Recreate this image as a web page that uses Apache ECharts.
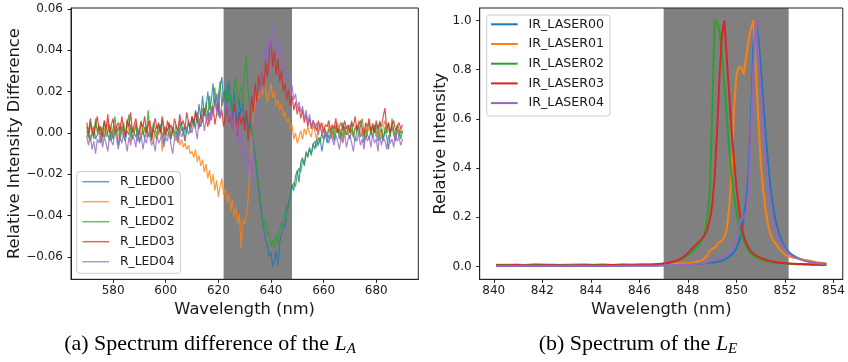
<!DOCTYPE html>
<html><head><meta charset="utf-8">
<script src="https://cdn.jsdelivr.net/npm/echarts@6/dist/echarts.min.js"></script>
<style>html,body{margin:0;padding:0;background:#fff}#c{width:848px;height:362px}</style>
</head><body><div id="c"></div>
<script>
// ---------- (a) Spectrum difference of L_A ----------
// sampling grid of the spectrometer: 570 nm to 690 nm, 181 samples
const wlAStart = 570, wlAStep = 2 / 3, wlACount = 181;
const milli = 0.001; // values below are given in thousandths
const rLed00 = [-2,1,-4,0,3,-3,-1,2,-5,0, -2,3,-1,-4,1,-3,2,0,-6,-1, 3,-2,-4,1,-1,4,-3,0,-2,2, -5,-1,1,-3,3,-2,0,-4,2,-1,
  -3,1,4,-2,-5,0,2,-1,-3,3, -2,1,-4,2,5,-1,3,0,6,2, 8,3,10,5,14,7,18,9,12,20, 11,16,24,13,19,8,22,27,15,21,
  10,25,17,6,20,12,3,16,9,14, 5,11,2,5,0,-6,-12,-20,-28,-35, -42,-47,-52,-55,-60,-58,-65,-62,-57,-64,
  -53,-49,-44,-46,-38,-34,-30,-25,-28,-21, -18,-24,-14,-12,-16,-9,-11,-7,-11,-5, -8,-3,-6,-2,-9,-4,0,-5,-1,-3,
  1,-4,0,2,-3,1,-2,3,-1,0, -3,2,-1,-4,1,3,-2,0,-5,2, -1,-3,1,-2,4,-1,-4,0,2,-3, 1,-2,-8,0,3,-1,-4,2,-2,1, 0];
const rLed01 = [1,-3,4,0,-2,5,2,-1,3,-4, 2,0,6,-2,3,-1,4,1,-3,5, 0,2,-2,7,1,-4,3,0,5,-1, 2,-3,4,1,-2,6,0,3,-5,1,
  4,-1,2,-9,3,0,-2,5,-3,1, -2,-4,0,-6,-3,-7,-5,-8,-6,-10, -9,-12,-8,-14,-11,-16,-13,-19,-15,-22, -18,-25,-20,-28,-23,-31,-26,-22,-30,-27,
  -34,-29,-38,-32,-41,-36,-44,-39,-56,-42, -44,-40,-32,-18,-5,8,14,20,16,23, 18,25,21,15,19,24,17,20,13,16,
  11,14,8,10,5,7,2,4,-3,0, -5,-2,1,-3,2,-1,3,0,-2,4, 1,-3,2,5,-1,3,0,-2,4,1,
  -2,3,0,5,-1,2,-4,1,3,-1, 4,0,-2,3,1,6,-1,2,-3,4, 0,3,-1,5,2,-2,4,1,-3,3, 6,0,2,-1,4,1,-2,3,0,2, 1];
const rLed02 = [3,-2,5,1,-3,7,0,4,-1,2, 6,-2,1,4,-4,2,8,0,3,-3, 1,5,-1,3,9,-2,2,0,4,-4, 2,6,-1,3,0,11,1,-3,5,2,
  -1,4,0,7,-2,3,1,5,-3,2, 0,4,-2,6,1,3,-4,2,5,0, 4,7,2,10,5,3,12,8,15,6, 18,9,14,22,11,17,25,13,20,8,
  24,15,19,10,22,27,14,18,23,12, 30,38,20,12,4,-5,-10,-18,-25,-32, -40,-45,-42,-50,-48,-55,-52,-56,-49,-54,
  -47,-43,-45,-38,-35,-37,-30,-27,-24,-26, -20,-17,-19,-13,-15,-10,-12,-8,-10,-6, -4,-7,-2,-5,0,-3,1,-2,2,-1,
  3,-2,4,0,2,-3,5,1,-1,3, 0,6,-2,2,4,-1,3,7,0,-3, 2,5,-1,3,0,4,-2,6,1,-4, 3,0,5,-2,7,1,-1,4,2,-3, 1];
const rLed03 = [5,0,7,2,-1,4,8,1,3,-2, 6,2,9,0,4,7,-1,3,5,1, 8,2,-2,6,3,10,0,4,7,1, -1,5,3,8,0,4,6,-2,3,7,
  2,5,0,8,3,-1,6,2,4,0, 7,3,1,9,4,6,2,10,5,3, 8,4,11,6,2,9,5,12,7,3, 10,6,13,4,9,15,7,11,3,8,
  12,5,9,2,14,6,-2,10,4,8, 1,11,-4,7,18,10,24,15,28,20, 30,22,35,27,38,45,32,40,28,36,
  25,30,20,24,16,21,13,18,11,15, 9,13,7,11,5,9,3,7,2,6, 4,1,6,2,5,0,4,3,6,1,
  4,2,7,0,3,5,1,6,2,4, 0,5,3,8,1,4,6,2,-1,5, 3,7,1,4,0,6,2,5,3,8, 12,2,5,0,4,6,1,3,5,2, 4];
const rLed04 = [-2,-6,-1,-8,-4,-10,-3,-5,0,-7, -2,-5,-9,-1,-4,-6,1,-3,-8,-2, -5,0,-4,-9,-2,-6,-1,-3,-7,2, -4,-1,-8,-3,-5,1,-2,-6,-4,-9,
  -1,-5,-3,0,-7,-2,-4,1,-6,-10, -3,-1,-5,2,-2,0,-4,3,-1,2, 0,5,2,-3,7,3,9,1,6,11, 4,13,8,16,10,20,7,14,18,9,
  15,6,12,3,10,-2,5,-8,2,-12, -15,-6,-20,-10,-25,0,8,15,5,22, 28,35,42,33,48,40,53,44,38,46,
  36,41,30,34,25,28,20,23,16,19, 12,15,10,13,7,11,5,9,3,6, 2,5,-1,3,0,-3,2,-2,-5,0,
  -3,-6,-1,-4,-8,-2,-5,0,-7,-3, -1,-5,-9,-2,-4,0,-6,-3,-8,-1, -4,-2,-7,0,-5,-3,-9,-1,-6,-2, -4,-8,-1,-5,-3,-7,0,-4,-2,-6, -3];
const ledNames = ['R_LED00','R_LED01','R_LED02','R_LED03','R_LED04'];
const spanA = [622, 648];
const aXTicks = [580,600,620,640,660,680];
const aXLabels = ['580','600','620','640','660','680'];
const aYTicks = [-0.06,-0.04,-0.02,0,0.02,0.04,0.06];
const aYLabels = ['\u22120.06','\u22120.04','\u22120.02','0.00','0.02','0.04','0.06'];

// ---------- (b) Spectrum of L_E ----------
const wlE = [840.1,840.5,840.9,841.3,841.7,842.1,842.5,842.9,843.3,843.7,844.1,844.5,844.9,845.3,845.7,846.1,846.5,
  846.6,846.7,846.8,846.9,847.0,847.1,847.2,847.3,847.4,847.5,
  847.6,847.7,847.8,847.9,848.0,848.1,848.2,848.3,848.4,848.5,
  848.6,848.7,848.8,848.9,849.0,849.1,849.2,849.3,849.4,849.5,
  849.6,849.7,849.8,849.9,850.0,850.1,850.2,850.3,850.4,850.5,
  850.6,850.7,850.8,850.9,851.0,851.1,851.2,851.3,851.4,851.5,
  851.6,851.7,851.8,851.9,852.0,852.1,852.2,852.3,852.4,852.5,
  852.6,852.7,852.8,852.9,853.0,853.1,853.2,853.3,853.4,853.5,853.6,853.7];
const irLaser00 = [.004,.003,.004,.003,.004,.003,.003,.004,.003,.004,.003,.004,.004,.003,.004,.004,.004,
  .004,.004,.005,.005,.005,.005,.006,.006,.006,.006, .007,.007,.007,.008,.008,.009,.009,.01,.01,.011,
  .012,.013,.014,.015,.016,.017,.019,.021,.024,.028, .033,.04,.048,.058,.075,.1,.135,.2,.27,.38,
  .61,.9,1.0,.93,.81,.67,.54,.42,.32,.25, .19,.15,.12,.095,.078,.065,.055,.047,.041,.036,
  .032,.028,.025,.022,.02,.018,.016,.014,.013,.012,.011,.01];
const irLaser01 = [.007,.006,.008,.006,.007,.008,.006,.007,.008,.006,.007,.008,.006,.007,.007,.007,.007,
  .007,.008,.008,.009,.009,.01,.01,.011,.011,.012, .012,.012,.013,.013,.013,.014,.015,.017,.02,.023,
  .027,.035,.045,.065,.072,.076,.09,.1,.105,.12, .15,.24,.38,.64,.78,.81,.81,.78,.85,.92,
  .97,1.0,.8,.6,.42,.31,.23,.17,.13,.11, .095,.08,.068,.057,.048,.043,.04,.037,.035,.033,
  .031,.029,.027,.025,.023,.021,.019,.017,.016,.015,.014,.013];
const irLaser02 = [.006,.007,.005,.006,.008,.006,.007,.005,.006,.008,.006,.007,.006,.008,.007,.008,.008,
  .008,.008,.009,.010,.011,.012,.014,.016,.018,.021, .024,.028,.033,.039,.046,.054,.063,.072,.082,.095,
  .112,.14,.2,.3,.62,1.0,.99,.96,.86,.74, .61,.48,.37,.29,.22,.17,.135,.105,.082,.065,
  .053,.044,.037,.032,.028,.025,.022,.02,.018,.016, .015,.014,.013,.012,.012,.011,.011,.01,.01,.009,
  .009,.009,.008,.008,.008,.007,.007,.007,.007,.006,.006,.006];
const irLaser03 = [.005,.004,.006,.005,.004,.006,.005,.004,.005,.006,.004,.005,.006,.005,.006,.007,.007,
  .008,.009,.01,.011,.012,.013,.015,.017,.02,.023, .027,.032,.038,.046,.055,.065,.075,.085,.095,.105,
  .115,.13,.15,.19,.25,.36,.55,.77,.94,1.0, .85,.7,.55,.43,.32,.24,.17,.125,.095,.075,
  .062,.052,.045,.04,.035,.031,.028,.025,.022,.02, .018,.016,.015,.014,.013,.012,.012,.011,.011,.01,
  .01,.01,.009,.009,.009,.008,.008,.008,.007,.007,.007,.006];
const irLaser04 = [.002,.003,.002,.004,.002,.003,.003,.002,.004,.003,.002,.003,.002,.003,.003,.003,.003,
  .003,.003,.004,.004,.004,.005,.005,.005,.005,.006, .006,.006,.007,.007,.008,.008,.009,.01,.011,.012,
  .013,.015,.017,.02,.023,.026,.03,.034,.038,.042, .048,.055,.065,.085,.12,.16,.195,.2,.22,.32,
  .54,.82,1.0,.86,.72,.58,.45,.34,.26,.2, .16,.13,.105,.085,.07,.058,.049,.043,.038,.034,
  .03,.027,.024,.021,.019,.017,.015,.013,.012,.011,.01,.01];
const laserNames = ['IR_LASER00','IR_LASER01','IR_LASER02','IR_LASER03','IR_LASER04'];
const spanE = [847.0, 852.15];
const eXTicks = [840,842,844,846,848,850,852,854];
const eXLabels = ['840','842','844','846','848','850','852','854'];
const eYTicks = [0,0.2,0.4,0.6,0.8,1.0];
const eYLabels = ['0.0','0.2','0.4','0.6','0.8','1.0'];

const colors = ['#1f77b4','#ff7f0e','#2ca02c','#d62728','#9467bd'];

// ---------- build ----------
const wlA = Array.from({length: wlACount}, (_, i) => wlAStart + i * wlAStep);
const ledData = [rLed00, rLed01, rLed02, rLed03, rLed04];
const laserData = [irLaser00, irLaser01, irLaser02, irLaser03, irLaser04];

const FONT = 'DejaVu Sans';
const TXT = '#1a1a1a';
function fmt(ticks, labels) {
  return v => { const k = ticks.findIndex(t => Math.abs(t - v) < 1e-9); return k < 0 ? '' : labels[k]; };
}
function xAxisCfg(gi, min, max, ticks, labels) {
  return {
    type: 'value', gridIndex: gi, min, max,
    axisLine: {show: true, onZero: false, lineStyle: {color: '#222', width: 1}},
    axisTick: {show: true, length: 3.5, customValues: ticks, lineStyle: {color: '#222', width: 1}},
    axisLabel: {customValues: ticks, formatter: fmt(ticks, labels), fontSize: 12, fontFamily: FONT, color: TXT, margin: 6},
    splitLine: {show: false},
    name: 'Wavelength (nm)', nameLocation: 'middle', nameGap: 20,
    nameTextStyle: {fontSize: 16.3, fontFamily: FONT, color: TXT}
  };
}
function yAxisCfg(gi, min, max, ticks, labels, name, gap) {
  return {
    type: 'value', gridIndex: gi, min, max,
    axisLine: {show: true, onZero: false, lineStyle: {color: '#222', width: 1}},
    axisTick: {show: true, length: 3.5, customValues: ticks, lineStyle: {color: '#222', width: 1}},
    axisLabel: {customValues: ticks, formatter: fmt(ticks, labels), fontSize: 12, fontFamily: FONT, color: TXT, margin: 8},
    splitLine: {show: false},
    name, nameLocation: 'middle', nameGap: gap,
    nameTextStyle: {fontSize: 16.3, fontFamily: FONT, color: TXT}
  };
}

const series = [];
series.push({type: 'line', xAxisIndex: 0, yAxisIndex: 0, data: [], z: 1, silent: true,
  markArea: {silent: true, itemStyle: {color: '#808080', opacity: 1}, data: [[{xAxis: spanA[0]}, {xAxis: spanA[1]}]]}});
series.push({type: 'line', xAxisIndex: 1, yAxisIndex: 1, data: [], z: 1, silent: true,
  markArea: {silent: true, itemStyle: {color: '#808080', opacity: 1}, data: [[{xAxis: spanE[0]}, {xAxis: spanE[1]}]]}});
ledNames.forEach((n, k) => series.push({
  type: 'line', name: n, xAxisIndex: 0, yAxisIndex: 0, z: 2,
  data: wlA.map((x, i) => [x, ledData[k][i] * milli]),
  symbol: 'none', color: colors[k], lineStyle: {width: 1.2, opacity: 0.8}
}));
laserNames.forEach((n, k) => series.push({
  type: 'line', name: n, xAxisIndex: 1, yAxisIndex: 1, z: 2,
  data: wlE.map((x, i) => [x, laserData[k][i]]),
  symbol: 'none', color: colors[k], lineStyle: {width: 2}
}));

const legendBase = {
  orient: 'vertical', itemWidth: 26.6, itemHeight: 14,
  borderColor: '#cccccc', borderWidth: 1, borderRadius: 3,
  backgroundColor: 'rgba(255,255,255,0.8)',
  itemStyle: {color: 'rgba(0,0,0,0)', borderWidth: 0, opacity: 0}
};

const option = {
  animation: false,
  backgroundColor: '#ffffff',
  grid: [
    {left: 71, top: 8, width: 347.3, height: 271.3, show: true, borderColor: '#222', borderWidth: 1, z: 10, backgroundColor: 'transparent'},
    {left: 479.7, top: 8, width: 363.6, height: 271.3, show: true, borderColor: '#222', borderWidth: 1, z: 10, backgroundColor: 'transparent'}
  ],
  xAxis: [xAxisCfg(0, 564, 696, aXTicks, aXLabels), xAxisCfg(1, 839.42, 854.38, eXTicks, eXLabels)],
  yAxis: [yAxisCfg(0, -0.0709, 0.0605, aYTicks, aYLabels, 'Relative Intensity Difference', 46.5),
          yAxisCfg(1, -0.052, 1.0504, eYTicks, eYLabels, 'Relative Intensity', 30.5)],
  legend: [
    Object.assign({}, legendBase, {left: 76.7, top: 171.7, padding: [3, 6, 4.6, 5], itemGap: 6, data: ledNames,
      lineStyle: {width: 1.5, opacity: 0.7},
      textStyle: {fontSize: 12.3, fontFamily: FONT, color: TXT, lineHeight: 14, padding: [0, 0, 0, 6]}}),
    Object.assign({}, legendBase, {left: 486.7, top: 15, padding: [2.3, 6, 5.9, 3.3], itemGap: 5.7, data: laserNames,
      lineStyle: {width: 2}, 
      textStyle: {fontSize: 12.6, fontFamily: FONT, color: TXT, lineHeight: 14, padding: [0, 0, 0, 6]}})
  ],
  graphic: [
    {type: 'text', x: 210, y: 344, style: {
      text: '(a) Spectrum difference of the {i|L}{s|A}', fontFamily: 'Liberation Serif', fontSize: 22, fill: '#000',
      align: 'center', verticalAlign: 'middle', lineHeight: 26,
      rich: {i: {fontFamily: 'Liberation Serif', fontStyle: 'italic', fontSize: 22, lineHeight: 26},
             s: {fontFamily: 'Liberation Serif', fontStyle: 'italic', fontSize: 15, lineHeight: 15, verticalAlign: 'bottom'}}}},
    {type: 'text', x: 638, y: 344, style: {
      text: '(b) Spectrum of the {i|L}{s|E}', fontFamily: 'Liberation Serif', fontSize: 22, fill: '#000',
      align: 'center', verticalAlign: 'middle', lineHeight: 26,
      rich: {i: {fontFamily: 'Liberation Serif', fontStyle: 'italic', fontSize: 22, lineHeight: 26},
             s: {fontFamily: 'Liberation Serif', fontStyle: 'italic', fontSize: 15, lineHeight: 15, verticalAlign: 'bottom'}}}}
  ],
  series
};
const chart = echarts.init(document.getElementById('c'), null, {renderer: 'canvas'});
chart.setOption(option);
</script></body></html>
